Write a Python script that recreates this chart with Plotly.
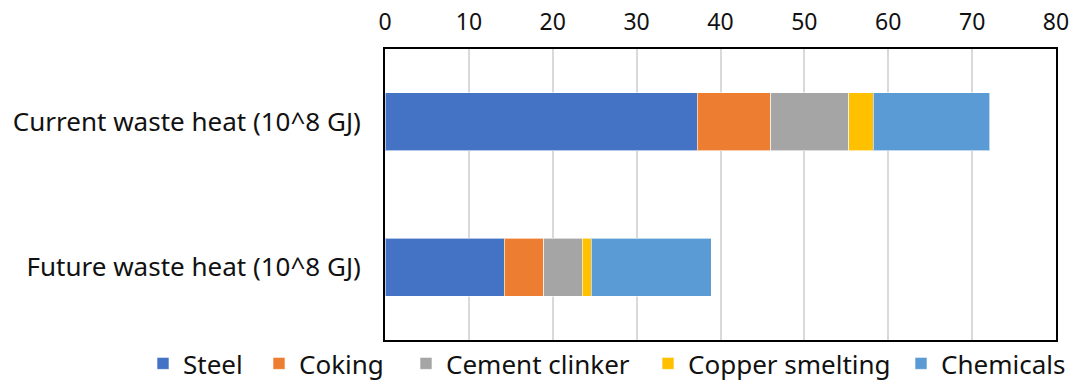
import plotly.graph_objects as go

# Waste heat by sector, in 10^8 GJ
categories = ["Current waste heat (10^8 GJ)", "Future waste heat (10^8 GJ)"]
sectors = ["Steel", "Coking", "Cement clinker", "Copper smelting", "Chemicals"]
steel = [37.2, 14.2]
coking = [8.8, 4.7]
cement_clinker = [9.3, 4.6]
copper_smelting = [2.9, 1.1]
chemicals = [13.9, 14.3]
x_ticks = [0, 10, 20, 30, 40, 50, 60, 70, 80]

series = [steel, coking, cement_clinker, copper_smelting, chemicals]
colors = ["#4472C4", "#ED7D31", "#A5A5A5", "#FFC000", "#5B9BD5"]

# left edge (px) of each legend entry along the bottom row
legend_px = [143, 259, 406, 648, 901]

FONT = "Noto Sans"
TEXT = "#111111"
W, H = 1073, 389

fig = go.Figure()
legend_layouts = {}
for i, (name, vals, col) in enumerate(zip(sectors, series, colors)):
    key = "legend" if i == 0 else f"legend{i + 1}"
    fig.add_trace(go.Bar(
        y=categories, x=vals, name=name, orientation="h",
        legend=key, showlegend=True,
        marker=dict(color=col, line=dict(color="rgba(255,255,255,0.6)", width=1)),
    ))
    legend_layouts[key] = dict(
        orientation="h", xref="container", x=legend_px[i] / W, xanchor="left",
        yref="container", y=2 / H, yanchor="bottom",
        font=dict(family=FONT, size=26, color=TEXT),
        itemwidth=30, bgcolor="rgba(0,0,0,0)", borderwidth=0,
    )

fig.update_layout(
    barmode="stack",
    bargap=0.6,
    showlegend=True,
    width=W, height=H,
    margin=dict(l=385, r=17, t=49, b=49, autoexpand=False),
    paper_bgcolor="white", plot_bgcolor="white",
    font=dict(family=FONT, size=26, color=TEXT),
    **legend_layouts,
)
fig.update_xaxes(
    side="top", range=[0, 80], tickvals=x_ticks,
    showgrid=True, gridcolor="#d9d9d9", gridwidth=2,
    showline=True, linecolor="black", linewidth=2, mirror=True,
    zeroline=False, ticks="", ticklabelstandoff=8,
    tickfont=dict(family=FONT, size=23, color=TEXT),
)
fig.update_yaxes(
    autorange="reversed",
    showline=True, linecolor="black", linewidth=2, mirror=True,
    ticks="", ticklabelstandoff=17,
    tickfont=dict(family=FONT, size=26, color=TEXT),
)

fig.write_html("out.html")
